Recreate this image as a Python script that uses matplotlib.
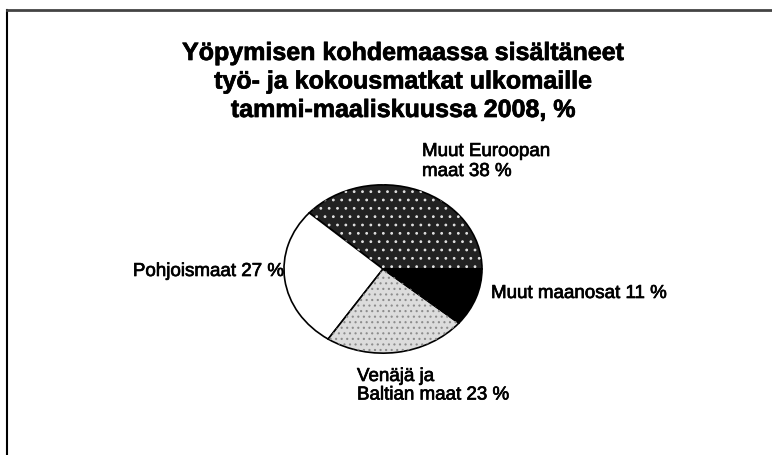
import matplotlib.pyplot as plt
import matplotlib.patheffects as pe
from matplotlib.lines import Line2D

plt.rcParams['font.family'] = ['Liberation Sans', 'DejaVu Sans']

# data
labels = ['Muut Euroopan\nmaat 38 %', 'Pohjoismaat 27 %', 'Venäjä ja\nBaltian maat 23 %', 'Muut maanosat 11 %']
shares = [38, 27, 23, 11]
title = 'Yöpymisen kohdemaassa sisältäneet\ntyö- ja kokousmatkat ulkomaille\ntammi-maaliskuussa 2008, %'

W, H = 772, 456
fig = plt.figure(figsize=(W / 100, H / 100), dpi=100)
fig.patch.set_facecolor('white')

def fx(px):
    return px / W

def fy(py):
    return 1 - py / H

# pie sits in an elliptical box (slightly squashed)
ax = fig.add_axes([fx(283), fy(355), 200 / W, 170 / H])
faces = ['#222222', 'white', '#dcdcdc', 'black']
wedges, _ = ax.pie(shares, startangle=0, counterclock=True, colors=faces,
                   wedgeprops=dict(edgecolor='black', linewidth=1.2))

# speckle textures, drawn on top of the filled wedges
hatches = ['..', None, '...', None]
hcols = ['#e0e0e0', None, '#8c8c8c', None]
plt.rcParams['hatch.linewidth'] = 0.8
for w, h, c in zip(wedges, hatches, hcols):
    if h is None:
        continue
    over = ax.pie([1], startangle=w.theta1, radius=1, colors=['none'])[0][0]
    over.set_theta2(w.theta2)
    over.set_fill(False)
    over.set_hatch(h)
    over.set_edgecolor(c)
    over.set_linewidth(0)
ax.set_aspect('auto')
ax.set_xlim(-1.01, 1.01)
ax.set_ylim(-1.01, 1.01)
ax.axis('off')

# scanned print looks a bit heavier than plain Arial
heavy = [pe.withStroke(linewidth=0.5, foreground='black')]

def put(text, x, y0, step, fs, ha='left', bold=False):
    # one text per line, y0 = baseline of the first line (pixels from top)
    for i, line in enumerate(text.split('\n')):
        fig.text(fx(x), fy(y0 + i * step), line, ha=ha, va='baseline',
                 fontsize=fs, fontweight='bold' if bold else 'normal',
                 path_effects=heavy)

# title
put(title, 403, 61, 28.5, 18, ha='center', bold=True)

# slice labels
fs = 13.5
put(labels[0], 422, 157, 20, fs)
put(labels[1], 284, 277, 20, fs, ha='right')
put(labels[2], 357, 382, 18.5, fs)
put(labels[3], 491, 299, 20, fs)

# frame (left and top edges of the scanned box)
fig.add_artist(Line2D([fx(7), fx(7)], [fy(11), 0], color='black', linewidth=1.5))
fig.add_artist(Line2D([fx(7), 1], [fy(11), fy(11)], color='#444444', linewidth=2))

fig.savefig('out.png', dpi=100)
